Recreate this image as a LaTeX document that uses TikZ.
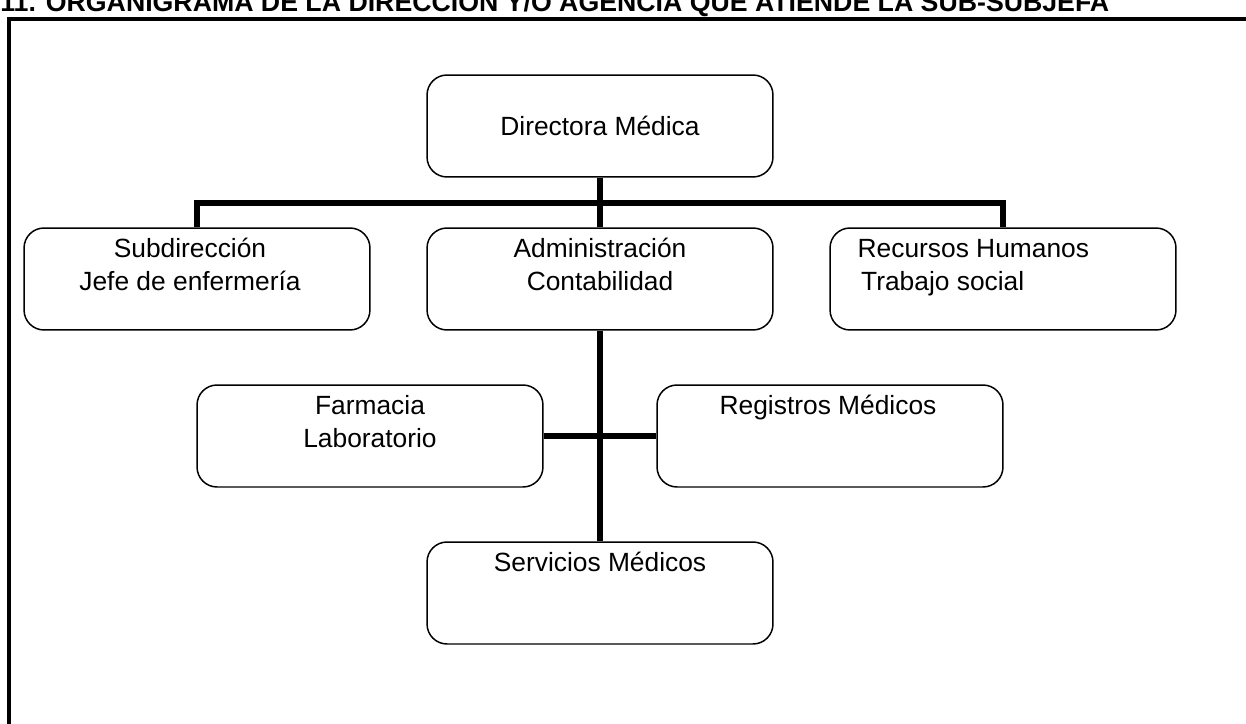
\documentclass[tikz,border=0pt]{standalone}
\usepackage{fontspec}
\setmainfont{Liberation Sans}
\usetikzlibrary{positioning}
\tikzstyle{orgbox} =[draw, rounded corners=0.4cm, line width=0.85pt, minimum width=6.92cm, minimum height=2.04cm, inner sep=0pt]
\tikzstyle{orgtext} =[inner sep=0pt, align=center, font=\fontsize{15}{18.7}\selectfont]
\tikzstyle{orgline} =[line width=3.4pt]

\begin{document}
\begin{tikzpicture}[x=0.02cm, y=-0.02cm]
\clip (0,0) rectangle (1246,723);

\node (title) [anchor=base west, font=\fontsize{15.2}{18}\selectfont\bfseries, inner sep=0pt] at (0,12) {11. ORGANIGRAMA DE LA DIRECCIÓN Y/O AGENCIA QUE ATIENDE LA SUB-SUBJEFA};
\draw[line width=1.9pt] (9,740) -- (9,19) -- (1260,19);

\node (dir) [orgbox, font=\fontsize{15}{18.7}\selectfont] at (600,126) {Directora Médica};

\node (sub) [orgbox] at (197,279) {};
\node (subText) [orgtext, below=4pt, xshift=-4pt] at (sub.north) {\strut Subdirección\\Jefe de enfermería};

\node (adm) [orgbox] at (600,279) {};
\node (admText) [orgtext, below=4pt] at (adm.north) {\strut Administración\\Contabilidad};

\node (rrhh) [orgbox] at (1003,279) {};
\node (rrhhText) [orgtext, align=left, anchor=north west, xshift=0.56cm, yshift=-4pt] at (rrhh.north west) {\strut Recursos Humanos\\\hspace{2pt}Trabajo social};

\node (farm) [orgbox] at (370,436) {};
\node (farmText) [orgtext, below=4pt] at (farm.north) {\strut Farmacia\\Laboratorio};

\node (reg) [orgbox] at (830,436) {};
\node (regText) [orgtext, anchor=north west, xshift=1.26cm, yshift=-4pt] at (reg.north west) {\strut Registros Médicos};

\node (serv) [orgbox] at (600,593) {};
\node (servText) [orgtext, below=4pt] at (serv.north) {\strut Servicios Médicos};

\coordinate (bus) at (600,203);
\draw[orgline] (sub.north) |- (bus) -| (rrhh.north);
\draw[orgline] (dir.south) -- (adm.north);

\draw[orgline] (adm.south) -- (serv.north);
\draw[orgline] (farm.east) -- (reg.west);

\end{tikzpicture}
\end{document}
